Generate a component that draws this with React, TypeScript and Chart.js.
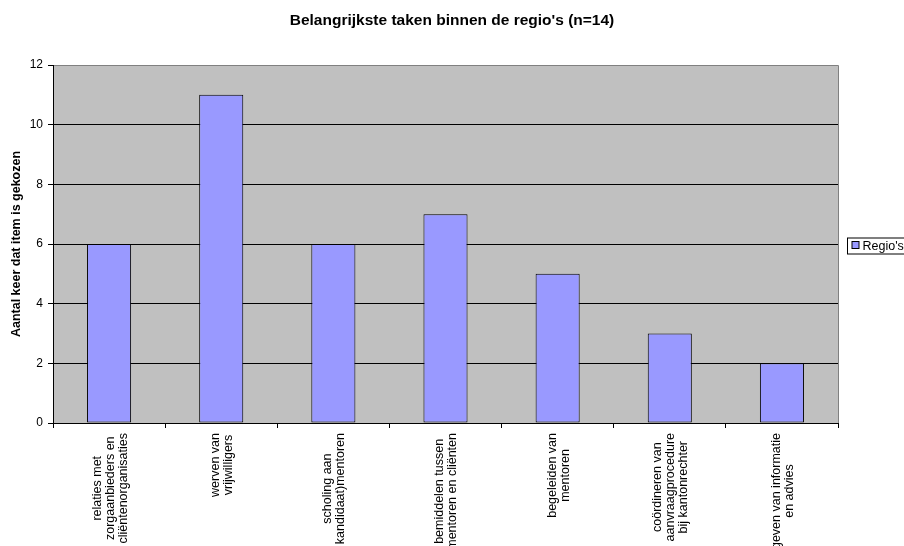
import React, { useEffect, useRef } from "react";
import { Chart, registerables } from "chart.js";

Chart.register(...registerables);

// Category labels, one array of lines per bar
const categories: string[][] = [
  ["relaties met", "zorgaanbieders en", "cliëntenorganisaties"],
  ["werven van", "vrijwilligers"],
  ["scholing aan", "kandidaat)mentoren"],
  ["bemiddelen tussen", "mentoren en cliënten"],
  ["begeleiden van", "mentoren"],
  ["coördineren van", "aanvraagprocedure", "bij kantonrechter"],
  ["geven van informatie", "en advies"],
];

const seriesName = "Regio's";
const seriesValues: number[] = [6, 11, 6, 7, 5, 3, 2];

const yMin = 0;
const yMax = 12;
const yStep = 2;

const chartTitle = "Belangrijkste taken binnen de regio's (n=14)";
const yAxisTitle = "Aantal keer dat item is gekozen";

const FONT = "'Liberation Sans', Arial, Helvetica, sans-serif";
const BAR_FILL = "#9999FF";
const PLOT_BG = "#C0C0C0";
const PLOT_EDGE = "#808080";

// Gray plot background with a thin gray frame
const plotBackground = {
  id: "plotBackground",
  beforeDraw(chart: Chart) {
    const { ctx, chartArea } = chart;
    if (!chartArea) return;
    const { left, top, right, bottom } = chartArea;
    ctx.save();
    ctx.fillStyle = PLOT_BG;
    ctx.fillRect(left, top, right - left, bottom - top);
    ctx.strokeStyle = PLOT_EDGE;
    ctx.lineWidth = 1;
    ctx.beginPath();
    ctx.moveTo(left, top + 0.5);
    ctx.lineTo(right + 0.5, top + 0.5);
    ctx.lineTo(right + 0.5, bottom);
    ctx.stroke();
    ctx.restore();
  },
};

// Vertical, multi-line category labels centred under each bar
const categoryLabels = {
  id: "categoryLabels",
  afterDraw(chart: Chart) {
    const { ctx } = chart;
    const xScale = chart.scales.x;
    const lineH = 13;
    ctx.save();
    ctx.font = `12.5px ${FONT}`;
    ctx.fillStyle = "#000";
    ctx.textAlign = "center";
    ctx.textBaseline = "middle";
    categories.forEach((lines, i) => {
      const cx = xScale.getPixelForValue(i) + 1;
      const w = Math.max(...lines.map((l) => ctx.measureText(l).width));
      const cy = xScale.top + 10 + w / 2;
      lines.forEach((line, j) => {
        const x = cx + (j - (lines.length - 1) / 2) * lineH;
        ctx.save();
        ctx.translate(x, cy);
        ctx.rotate(-Math.PI / 2);
        ctx.fillText(line, 0, 0);
        ctx.restore();
      });
    });
    ctx.restore();
  },
};

// Boxed legend to the right of the plot
const boxedLegend = {
  id: "boxedLegend",
  afterDraw(chart: Chart) {
    const { ctx, chartArea } = chart;
    const ds = chart.data.datasets[0];
    const x0 = Math.round(chartArea.right) + 9.5;
    const cy = Math.round((chartArea.top + chartArea.bottom) / 2) + 2;
    ctx.save();
    ctx.font = `12.5px ${FONT}`;
    const tw = ctx.measureText(String(ds.label)).width;
    const boxW = 5 + 7 + 4 + tw + 6;
    ctx.fillStyle = "#fff";
    ctx.fillRect(x0, cy - 8, boxW, 16);
    ctx.strokeStyle = "#000";
    ctx.lineWidth = 1;
    ctx.strokeRect(x0, cy - 8, boxW, 16);
    ctx.fillStyle = BAR_FILL;
    ctx.fillRect(x0 + 4.5, cy - 4.5, 7, 7);
    ctx.strokeRect(x0 + 4.5, cy - 4.5, 7, 7);
    ctx.fillStyle = "#000";
    ctx.textAlign = "left";
    ctx.textBaseline = "middle";
    ctx.fillText(String(ds.label), x0 + 15, cy + 0.5);
    ctx.restore();
  },
};

export default function App() {
  const canvasRef = useRef<HTMLCanvasElement | null>(null);

  useEffect(() => {
    if (!canvasRef.current) return;
    const chart = new Chart(canvasRef.current, {
      type: "bar",
      data: {
        labels: categories.map((c) => c.join(" ")),
        datasets: [
          {
            label: seriesName,
            data: seriesValues,
            backgroundColor: BAR_FILL,
            borderColor: "#000",
            borderWidth: 1,
            borderSkipped: false,
            barPercentage: 1,
            categoryPercentage: 0.393,
          },
        ],
      },
      options: {
        responsive: false,
        animation: false,
        events: [],
        layout: { padding: 0 },
        plugins: {
          legend: { display: false },
          tooltip: { enabled: false },
          title: {
            display: true,
            text: chartTitle,
            color: "#000",
            font: { family: FONT, size: 15.5, weight: "bold", lineHeight: 1.2 },
            padding: { top: 11, bottom: 35.4 },
          },
        },
        scales: {
          x: {
            grid: {
              offset: true,
              drawOnChartArea: false,
              drawTicks: true,
              tickLength: 5,
              color: "#000",
              tickColor: "#000",
            },
            border: { display: true, color: "#000", width: 1 },
            ticks: { display: false },
            afterFit: (s: any) => {
              s.height = 123;
            },
          },
          y: {
            min: yMin,
            max: yMax,
            ticks: {
              stepSize: yStep,
              color: "#000",
              padding: 5,
              font: { family: FONT, size: 12 },
            },
            grid: {
              color: (ctx: any) => (ctx.tick && ctx.tick.value === yMax ? PLOT_EDGE : "#000"),
              tickColor: "#000",
              tickLength: 5,
            },
            border: { display: true, color: "#000", width: 1 },
            title: {
              display: true,
              text: yAxisTitle,
              color: "#000",
              font: { family: FONT, size: 12.5, weight: "bold", lineHeight: 1.2 },
              padding: { top: 9.5, bottom: 0 },
            },
            afterFit: (s: any) => {
              s.width = 53;
            },
          },
          // Empty right-hand axis that reserves the strip holding the legend
          legendStrip: {
            type: "linear",
            position: "right",
            display: true,
            grid: { display: false, drawTicks: false },
            ticks: { display: false },
            border: { display: false },
            afterFit: (s: any) => {
              s.width = 66;
            },
          },
        },
      },
      plugins: [plotBackground, categoryLabels, boxedLegend],
    });
    return () => chart.destroy();
  }, []);

  return (
    <div style={{ position: "absolute", left: 0, top: 0, width: 904, height: 546, background: "#fff" }}>
      <canvas ref={canvasRef} width={904} height={546} style={{ display: "block" }} />
    </div>
  );
}
